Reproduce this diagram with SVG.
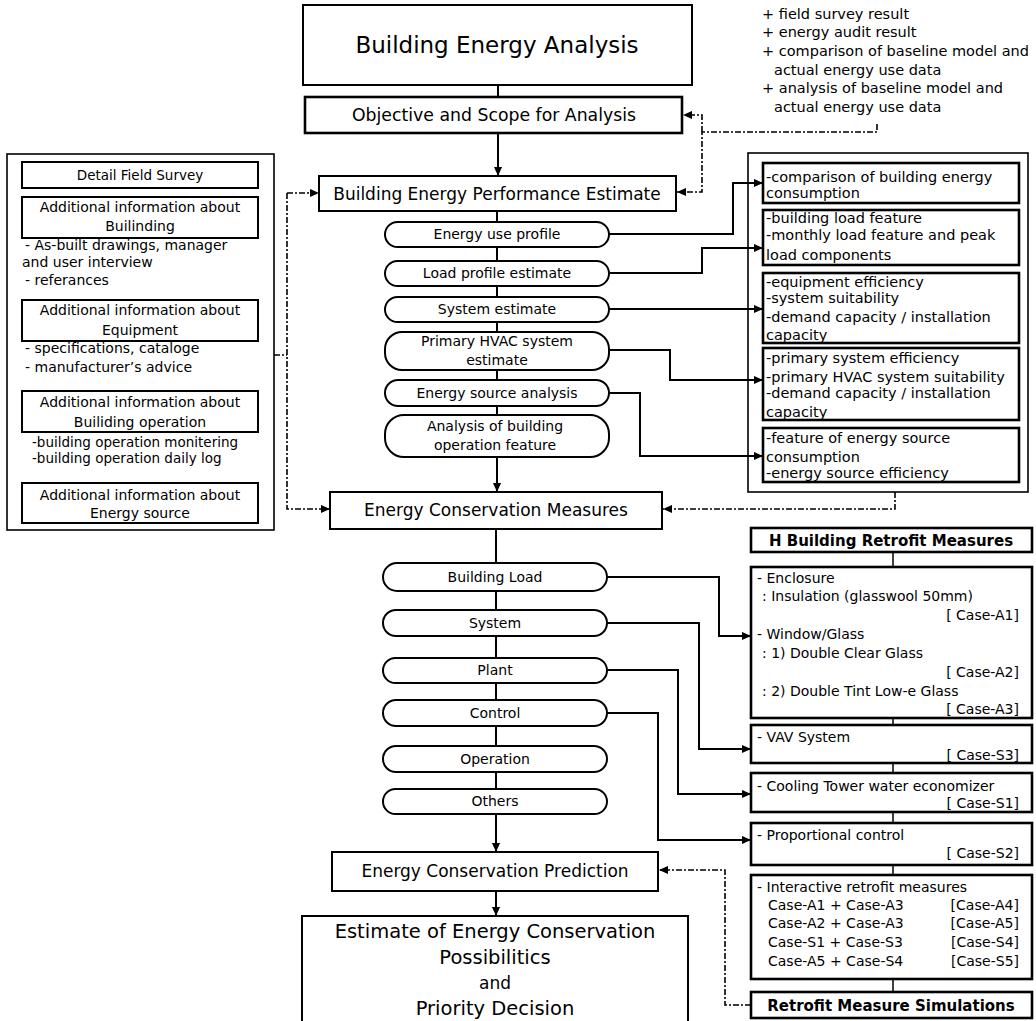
<svg xmlns="http://www.w3.org/2000/svg" width="1036" height="1021" viewBox="0 0 1036 1021">
<defs>
<marker id="ah" viewBox="0 0 10 10" refX="10" refY="5" markerWidth="9" markerHeight="9" markerUnits="userSpaceOnUse" orient="auto"><path d="M0,0.5 L10,5 L0,9.5 z" fill="#000"/></marker>
<style>
text{font-family:"DejaVu Sans","Liberation Sans",Arial,sans-serif;fill:#000}
.box{fill:#fff;stroke:#000;stroke-width:2}
.thick{fill:#fff;stroke:#000;stroke-width:2.6}
.panel{fill:none;stroke:#000;stroke-width:1.6}
.pill{fill:#fff;stroke:#000;stroke-width:2}
.conn{fill:none;stroke:#000;stroke-width:2}
.dash{fill:none;stroke:#000;stroke-width:1.6;stroke-dasharray:6 2 2 2}
.c{text-anchor:middle}
.r{text-anchor:end}
.s14{font-size:14px}
.s145{font-size:14.5px}
.s13{font-size:13.5px}
.b{font-weight:bold}
</style>
</defs>
<rect width="1036" height="1021" fill="#fff"/>

<g id="connectors">
<path class="conn" d="M498,85 V97"/>
<path class="conn" d="M498,133 V176" marker-end="url(#ah)"/>
<path class="conn" d="M497,211 V492" marker-end="url(#ah)"/>
<path class="conn" d="M609,234 H733 V183 H763" marker-end="url(#ah)"/>
<path class="conn" d="M609,273 H702 V248 H763" marker-end="url(#ah)"/>
<path class="conn" d="M609,309 H763" marker-end="url(#ah)"/>
<path class="conn" d="M609,350 H670 V380 H763" marker-end="url(#ah)"/>
<path class="conn" d="M609,393 H640 V456 H763" marker-end="url(#ah)"/>
<path class="conn" d="M496,529 V852" marker-end="url(#ah)"/>
<path class="conn" d="M496,891 V916" marker-end="url(#ah)"/>
<path class="conn" d="M607,577 H719 V636 H751" marker-end="url(#ah)"/>
<path class="conn" d="M607,623 H699 V749 H751" marker-end="url(#ah)"/>
<path class="conn" d="M607,670 H678 V794 H751" marker-end="url(#ah)"/>
<path class="conn" d="M607,713 H658 V840 H751" marker-end="url(#ah)"/>
<path class="conn" d="M893,552 V992" style="stroke-width:1.5"/>
<path class="dash" d="M877,124 V132 H702 V192 H677" marker-end="url(#ah)"/>
<path class="dash" d="M702,132 V115 H683" marker-end="url(#ah)"/>
<path class="dash" d="M287,193 H319" marker-end="url(#ah)"/>
<path class="dash" d="M287,193 V509 H330" marker-end="url(#ah)"/>
<path class="dash" d="M274,355 H287"/>
<path class="dash" d="M895,492 V509 H663" marker-end="url(#ah)"/>
<path class="dash" d="M751,1005 H725 V870 H659" marker-end="url(#ah)"/>
</g>

<g id="annotation">
<text class="s145" x="762" y="19">+ field survey result</text>
<text class="s145" x="762" y="37">+ energy audit result</text>
<text class="s145" x="762" y="56">+ comparison of baseline model and</text>
<text class="s145" x="774" y="75">actual energy use data</text>
<text class="s145" x="762" y="93">+ analysis of baseline model and</text>
<text class="s145" x="774" y="112">actual energy use data</text>
</g>

<g id="building-energy-analysis">
<rect class="box" x="303" y="5" width="389" height="80"/>
<text class="c" x="497" y="53" style="font-size:23px">Building Energy Analysis</text>
</g>
<g id="objective">
<rect class="thick" x="305" y="97" width="377" height="36"/>
<text class="c" x="494" y="121" style="font-size:17.3px">Objective and Scope for Analysis</text>
</g>
<g id="performance-estimate">
<rect class="box" x="319" y="176" width="357" height="35"/>
<text class="c" x="497" y="200" style="font-size:17px">Building Energy Performance Estimate</text>
</g>

<g id="p-energy-use"><rect class="pill" x="385" y="222" width="224" height="25" rx="12.5"/><text class="c s14" x="497" y="239">Energy use profile</text></g>
<g id="p-load-profile"><rect class="pill" x="385" y="261" width="224" height="25" rx="12.5"/><text class="c s14" x="497" y="278">Load profile estimate</text></g>
<g id="p-system-estimate"><rect class="pill" x="385" y="297" width="224" height="25" rx="12.5"/><text class="c s14" x="497" y="314">System estimate</text></g>
<g id="p-primary-hvac"><rect class="pill" x="385" y="332" width="224" height="38" rx="17"/><text class="c s14" x="497" y="346">Primary HVAC system</text><text class="c s14" x="497" y="365">estimate</text></g>
<g id="p-energy-source"><rect class="pill" x="385" y="380" width="224" height="26" rx="13"/><text class="c s14" x="497" y="398">Energy source analysis</text></g>
<g id="p-operation-feature"><rect class="pill" x="385" y="415" width="224" height="42" rx="19"/><text class="c s14" x="495" y="431">Analysis of building</text><text class="c s14" x="495" y="450">operation feature</text></g>

<g id="left-panel">
<rect class="panel" x="7" y="154" width="267" height="376"/>
<rect class="box" x="22" y="162" width="236" height="26"/>
<text class="c s13" x="140" y="180">Detail Field Survey</text>
<rect class="box" x="22" y="197" width="236" height="41"/>
<text class="c s14" x="140" y="212">Additional information about</text>
<text class="c s14" x="140" y="231">Builinding</text>
<text class="s14" x="25" y="250">- As-built drawings, manager</text>
<text class="s14" x="22" y="267">and user interview</text>
<text class="s14" x="25" y="285">- referances</text>
<rect class="box" x="22" y="300" width="236" height="41"/>
<text class="c s14" x="140" y="315">Additional information about</text>
<text class="c s14" x="140" y="335">Equipment</text>
<text class="s14" x="25" y="353">- specifications, cataloge</text>
<text class="s14" x="25" y="372">- manufacturer’s advice</text>
<rect class="box" x="22" y="391" width="236" height="41"/>
<text class="c s14" x="140" y="407">Additional information about</text>
<text class="c s14" x="140" y="427">Builiding operation</text>
<text class="s13" x="32" y="447">-building operation monitering</text>
<text class="s13" x="32" y="463">-building operation daily log</text>
<rect class="box" x="22" y="483" width="236" height="40"/>
<text class="c s14" x="140" y="500">Additional information about</text>
<text class="c s14" x="140" y="518">Energy source</text>
</g>

<g id="right-panel">
<rect class="panel" x="748" y="153" width="280" height="339"/>
<rect class="thick" x="763" y="163" width="256" height="40"/>
<text class="s145" x="766" y="182">-comparison of building energy</text>
<text class="s145" x="766" y="198">consumption</text>
<rect class="thick" x="763" y="210" width="256" height="55"/>
<text class="s145" x="766" y="223">-building load feature</text>
<text class="s145" x="766" y="240">-monthly load feature and peak</text>
<text class="s145" x="766" y="260">load components</text>
<rect class="thick" x="763" y="273" width="256" height="70"/>
<text class="s145" x="766" y="287">-equipment efficiency</text>
<text class="s145" x="766" y="303">-system suitability</text>
<text class="s145" x="766" y="322">-demand capacity / installation</text>
<text class="s145" x="766" y="340">capacity</text>
<rect class="thick" x="763" y="348" width="256" height="72"/>
<text class="s145" x="766" y="363">-primary system efficiency</text>
<text class="s145" x="766" y="382">-primary HVAC system suitability</text>
<text class="s145" x="766" y="398">-demand capacity / installation</text>
<text class="s145" x="766" y="417">capacity</text>
<rect class="thick" x="763" y="428" width="256" height="54"/>
<text class="s145" x="766" y="443">-feature of energy source</text>
<text class="s145" x="766" y="462">consumption</text>
<text class="s145" x="766" y="478">-energy source efficiency</text>
</g>

<g id="conservation-measures">
<rect class="box" x="330" y="492" width="332" height="37"/>
<text class="c" x="496" y="516" style="font-size:17px">Energy Conservation Measures</text>
</g>

<g id="m-building-load"><rect class="pill" x="383" y="563" width="224" height="28" rx="14"/><text class="c s14" x="495" y="582">Building Load</text></g>
<g id="m-system"><rect class="pill" x="383" y="610" width="224" height="26" rx="13"/><text class="c s14" x="495" y="628">System</text></g>
<g id="m-plant"><rect class="pill" x="383" y="658" width="224" height="25" rx="12.5"/><text class="c s14" x="495" y="675">Plant</text></g>
<g id="m-control"><rect class="pill" x="383" y="700" width="224" height="26" rx="13"/><text class="c s14" x="495" y="718">Control</text></g>
<g id="m-operation"><rect class="pill" x="383" y="746" width="224" height="26" rx="13"/><text class="c s14" x="495" y="764">Operation</text></g>
<g id="m-others"><rect class="pill" x="383" y="789" width="224" height="25" rx="12.5"/><text class="c s14" x="495" y="806">Others</text></g>

<g id="conservation-prediction">
<rect class="box" x="332" y="852" width="326" height="39"/>
<text class="c" x="495" y="877" style="font-size:17px">Energy Conservation Prediction</text>
</g>
<g id="estimate-priority">
<rect class="box" x="302" y="916" width="386" height="115"/>
<text class="c" x="495" y="938" style="font-size:19.5px">Estimate of Energy Conservation</text>
<text class="c" x="495" y="964" style="font-size:19.5px">Possibilitics</text>
<text class="c" x="495" y="989" style="font-size:17px">and</text>
<text class="c" x="495" y="1015" style="font-size:19.5px">Priority Decision</text>
</g>

<g id="retrofit-header">
<rect class="thick" x="751" y="528" width="281" height="24"/>
<text class="c b" x="891" y="546" style="font-size:15px">H Building Retrofit Measures</text>
</g>
<g id="retrofit-a">
<rect class="thick" x="751" y="567" width="281" height="151"/>
<text class="s14" x="757" y="583">- Enclosure</text>
<text class="s14" x="762" y="601">: Insulation (glasswool 50mm)</text>
<text class="s14 r" x="1019" y="620">[ Case-A1]</text>
<text class="s14" x="757" y="639">- Window/Glass</text>
<text class="s14" x="762" y="658">: 1) Double Clear Glass</text>
<text class="s14 r" x="1019" y="677">[ Case-A2]</text>
<text class="s14" x="762" y="696">: 2) Double Tint Low-e Glass</text>
<text class="s14 r" x="1019" y="714">[ Case-A3]</text>
</g>
<g id="retrofit-vav">
<rect class="thick" x="751" y="725" width="281" height="38"/>
<text class="s14" x="757" y="742">- VAV System</text>
<text class="s14 r" x="1019" y="760">[ Case-S3]</text>
</g>
<g id="retrofit-cooling">
<rect class="thick" x="751" y="773" width="281" height="39"/>
<text class="s14" x="757" y="791">- Cooling Tower water economizer</text>
<text class="s14 r" x="1019" y="808">[ Case-S1]</text>
</g>
<g id="retrofit-control">
<rect class="thick" x="751" y="823" width="281" height="42"/>
<text class="s14" x="757" y="840">- Proportional control</text>
<text class="s14 r" x="1019" y="858">[ Case-S2]</text>
</g>
<g id="retrofit-interactive">
<rect class="thick" x="751" y="875" width="281" height="104"/>
<text class="s14" x="757" y="892">- Interactive retrofit measures</text>
<text class="s14" x="768" y="910">Case-A1 + Case-A3</text><text class="s14 r" x="1019" y="910">[Case-A4]</text>
<text class="s14" x="768" y="928">Case-A2 + Case-A3</text><text class="s14 r" x="1019" y="928">[Case-A5]</text>
<text class="s14" x="768" y="947">Case-S1 + Case-S3</text><text class="s14 r" x="1019" y="947">[Case-S4]</text>
<text class="s14" x="768" y="966">Case-A5 + Case-S4</text><text class="s14 r" x="1019" y="966">[Case-S5]</text>
</g>
<g id="retrofit-simulations">
<rect class="thick" x="751" y="992" width="281" height="26"/>
<text class="c b" x="891" y="1011" style="font-size:15px">Retrofit Measure Simulations</text>
</g>
</svg>
